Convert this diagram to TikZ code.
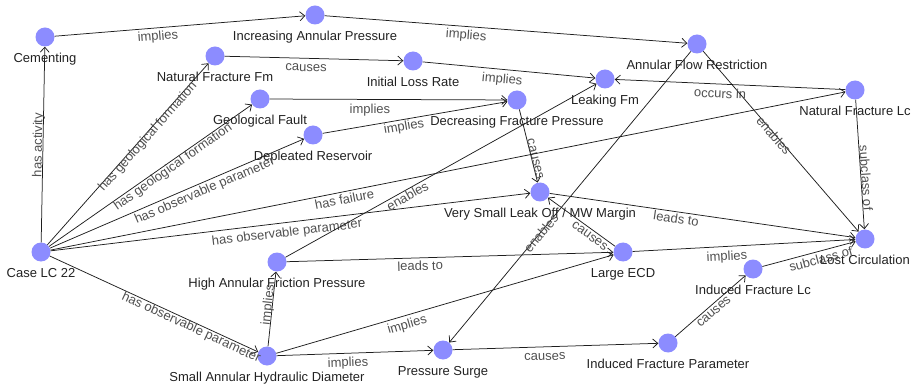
\documentclass[tikz,border=0pt]{standalone}
\usepackage{fontspec}
\setmainfont{Liberation Sans}
\usetikzlibrary{arrows.meta}
\definecolor{nodeblue}{RGB}{140,140,255}
\definecolor{nodetext}{RGB}{34,34,34}
\definecolor{edgetext}{RGB}{80,80,80}
\definecolor{edgeline}{RGB}{30,30,30}
\begin{document}
\begin{tikzpicture}[x=1pt,y=-1pt,
  nd/.style={circle, fill=nodeblue, minimum size=19pt, inner sep=0pt},
  nlbl/.style={font=\fontsize{13}{15}\selectfont, text=nodetext, inner sep=0pt, text height=9.5pt, text depth=2.5pt, yshift=-6.5pt},
  conn/.style={draw=edgeline, line width=0.75pt, -{Straight Barb[length=5pt,width=9pt]}},
  el/.style={font=\fontsize{13}{15}\selectfont, text=edgetext, sloped, inner sep=0pt, anchor=center, text height=9.5pt, text depth=2.5pt}
]
\useasboundingbox (0,0) rectangle (912,387);

\node[nd, label={[nlbl]below:Cementing}] (cem) at (45,37) {};
\node[nd, label={[nlbl]below:Increasing Annular Pressure}] (iap) at (315,15) {};
\node[nd, label={[nlbl]below:Natural Fracture Fm}] (nffm) at (215,56) {};
\node[nd, label={[nlbl]below:Initial Loss Rate}] (ilr) at (413,61) {};
\node[nd, label={[nlbl]below:Geological Fault}] (gf) at (260,99) {};
\node[nd, label={[nlbl]below:Decreasing Fracture Pressure}] (dfp) at (517,100) {};
\node[nd, label={[nlbl]below:Leaking Fm}] (lfm) at (605,79) {};
\node[nd, label={[nlbl]below:Annular Flow Restriction}] (afr) at (697,44) {};
\node[nd, label={[nlbl]below:Natural Fracture Lc}] (nflc) at (855,90) {};
\node[nd, label={[nlbl]below:Depleated Reservoir}] (dr) at (313,135) {};
\node[nd, label={[nlbl]below:Very Small Leak Off / MW Margin}] (vslo) at (540,192) {};
\node[nd, label={[nlbl]below:Case LC 22}] (case) at (41,252) {};
\node[nd, label={[nlbl]below:High Annular Friction Pressure}] (hafp) at (277,262) {};
\node[nd, label={[nlbl]below:Large ECD}] (lecd) at (623,252) {};
\node[nd, label={[nlbl]below:Lost Circulation}] (lc) at (865,239) {};
\node[nd, label={[nlbl]below:Induced Fracture Lc}] (iflc) at (753,269) {};
\node[nd, label={[nlbl]below:Small Annular Hydraulic Diameter}] (sahd) at (267,356) {};
\node[nd, label={[nlbl]below:Pressure Surge}] (ps) at (443,350) {};
\node[nd, label={[nlbl]below:Induced Fracture Parameter}] (ifp) at (668,343) {};

\draw[conn] (cem) -- node[el, pos=0.409, yshift=-9pt] {implies} (iap);
\draw[conn] (iap) -- node[el, pos=0.392, yshift=-9pt] {implies} (afr);
\draw[conn] (nffm) -- node[el, pos=0.457, yshift=-9.5pt] {causes} (ilr);
\draw[conn] (ilr) -- node[el, pos=0.466, yshift=-10.5pt] {implies} (lfm);
\draw[conn] (gf) -- node[el, pos=0.422, yshift=-10.5pt] {implies} (dfp);
\draw[conn] (dr) -- node[el, pos=0.434, yshift=-7.5pt] {implies} (dfp);
\draw[conn] (nflc) -- node[el, pos=0.541, yshift=-10.5pt] {occurs in} (lfm);
\draw[conn] (afr) -- node[el, pos=0.461, yshift=-2.5pt] {enables} (lc);
\draw[conn] (afr) -- node[el, pos=0.622, yshift=-2pt] {enables} (ps);
\draw[conn] (nflc) -- node[el, pos=0.606, yshift=4pt] {subclass of} (lc);
\draw[conn] (dfp) -- node[el, pos=0.687, yshift=3.5pt] {causes} (vslo);
\draw[conn] (case) -- node[el, pos=0.497, yshift=4.5pt] {has activity} (cem);
\draw[conn] (case) -- node[el, pos=0.607, yshift=-3.5pt] {has geological formation} (nffm);
\draw[conn] (case) -- node[el, pos=0.594, yshift=-6pt] {has geological formation} (gf);
\draw[conn] (case) -- node[el, pos=0.596, yshift=-8.5pt] {has observable parameter} (dr);
\draw[conn] (case) -- node[el, pos=0.368, yshift=-8.5pt] {has failure} (nflc);
\draw[conn] (case) -- node[el, pos=0.49, yshift=-10.5pt] {has observable parameter} (vslo);
\draw[conn] (case) -- node[el, pos=0.69, yshift=-6pt] {has observable parameter} (sahd);
\draw[conn] (hafp) -- node[el, pos=0.383, yshift=-7pt] {enables} (lfm);
\draw[conn] (hafp) -- node[el, pos=0.408, yshift=-9pt] {leads to} (lecd);
\draw[conn] (sahd) -- node[el, pos=0.547, yshift=4pt] {implies} (hafp);
\draw[conn] (sahd) -- node[el, pos=0.38, yshift=-9.5pt] {implies} (lecd);
\draw[conn] (sahd) -- node[el, pos=0.453, yshift=-10pt] {implies} (ps);
\draw[conn] (ps) -- node[el, pos=0.447, yshift=-10pt] {causes} (ifp);
\draw[conn] (ifp) -- node[el, pos=0.486, yshift=-6.5pt] {causes} (iflc);
\draw[conn] (iflc) -- node[el, pos=0.604, yshift=-9pt] {subclass of} (lc);
\draw[conn] (lecd) -- node[el, pos=0.421, yshift=-10.5pt] {implies} (lc);
\draw[conn] (lecd) -- node[el, pos=0.319, yshift=-6.5pt] {causes} (vslo);
\draw[conn] (vslo) -- node[el, pos=0.417, yshift=-8pt] {leads to} (lc);
\end{tikzpicture}
\end{document}
